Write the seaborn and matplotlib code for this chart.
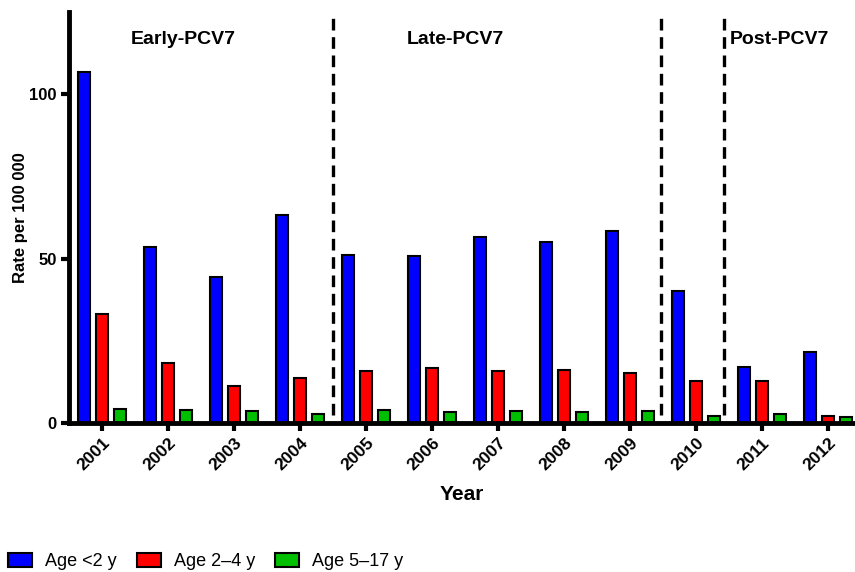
import matplotlib.pyplot as plt
import pandas as pd
import seaborn as sns

years = ['2001', '2002', '2003', '2004', '2005', '2006',
         '2007', '2008', '2009', '2010', '2011', '2012']
age_lt2 = [106.7, 53.5, 44.4, 63.2, 51.1, 50.8, 56.5, 55.0, 58.4, 40.1, 17.0, 21.6]
age_2_4 = [33.1, 18.3, 11.4, 13.8, 15.9, 16.6, 15.7, 16.2, 15.2, 12.9, 12.8, 2.0]
age_5_17 = [4.35, 3.95, 3.5, 2.8, 4.05, 3.4, 3.65, 3.25, 3.65, 2.1, 2.8, 1.7]
groups = ['Age <2 y', 'Age 2\u20134 y', 'Age 5\u201317 y']
plt_colors = {'Age <2 y': '#0000FF',
              'Age 2\u20134 y': '#FF0000',
              'Age 5\u201317 y': '#00BF00'}
periods = ['Early-PCV7', 'Late-PCV7', 'Post-PCV7']

df = pd.DataFrame({'Year': years * 3,
                   'rate': age_lt2 + age_2_4 + age_5_17,
                   'group': [g for g in groups for _ in years]})

sns.set_style('ticks')
plt.rcParams['font.family'] = ['Liberation Sans', 'DejaVu Sans']
plt.rcParams.update({'text.color': 'black', 'axes.labelcolor': 'black',
                     'xtick.color': 'black', 'ytick.color': 'black',
                     'axes.edgecolor': 'black'})

fig = plt.figure(figsize=(8.55, 5.72), dpi=100)
ax = fig.add_axes([0.0807, 0.2605, 0.9193, 0.7185])
sns.barplot(df, x='Year', y='rate', hue='group', palette=plt_colors,
            width=0.81, gap=0.33, edgecolor='black', linewidth=1.5,
            saturation=1, ax=ax)

ax.set_ylim(0, 125)
ax.set_xlim(-0.5, 11.41)
ax.set_yticks([0, 50, 100])
ax.set_yticklabels(['0', '50', '100'], fontsize=12, fontweight='bold')
ax.set_xticks(range(len(years)))
ax.set_xticklabels(years, rotation=45, ha='right', rotation_mode='anchor',
                   fontsize=12.5, fontweight='bold')
ax.tick_params(axis='both', length=6, width=3, color='black', pad=3)
ax.set_ylabel('Rate per 100 000', fontsize=12, fontweight='bold', labelpad=1)
ax.set_xlabel('Year', fontsize=15, fontweight='bold', labelpad=8)
for side in ['left', 'bottom']:
    ax.spines[side].set_linewidth(3.5)
sns.despine(ax=ax)

# period dividers
for xpos in [3.5, 8.47, 9.43]:
    ax.vlines(xpos, 2.5, 124, colors='black', linestyles=(0, (3.5, 2.0)),
              linewidth=2.4)
ax.text(1.23, 116.5, periods[0], ha='center', va='center',
        fontsize=14, fontweight='bold')
ax.text(5.35, 116.5, periods[1], ha='center', va='center',
        fontsize=14, fontweight='bold')
ax.text(10.27, 116.5, periods[2], ha='center', va='center',
        fontsize=14, fontweight='bold')

handles, labels = ax.get_legend_handles_labels()
ax.legend_.remove()
fig.legend(handles, labels, loc='lower left', bbox_to_anchor=(-0.0094, -0.025),
           ncol=3, frameon=False, fontsize=13, handlelength=1.33,
           handleheight=0.8, columnspacing=1.1, handletextpad=0.72)

plt.savefig('out.png', dpi=100)
